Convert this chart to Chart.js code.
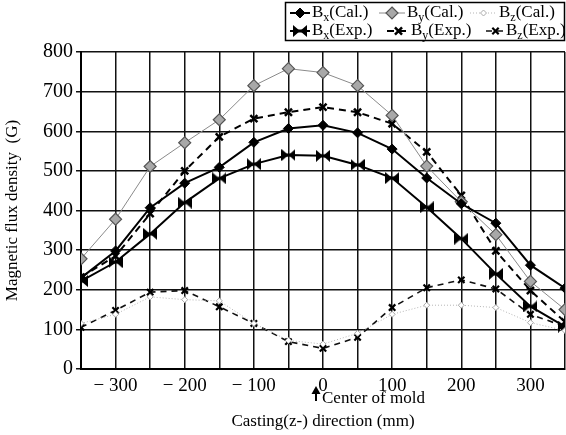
<!DOCTYPE html>
<html>
<head>
<meta charset="utf-8">
<script src="https://cdn.jsdelivr.net/npm/chart.js@4/dist/chart.umd.min.js"></script>
<style>
  html, body { margin: 0; padding: 0; background: #fff; }
  #wrap { width: 566px; height: 435px; }
</style>
</head>
<body>
<div id="wrap"><canvas id="fluxChart" width="566" height="435"></canvas></div>
<script>
// positions along the casting direction (mm)
var positions = [-350, -300, -250, -200, -150, -100, -50, 0, 50, 100, 150, 200, 250, 300, 350];

// magnetic flux density (G)
var bxCal = [230, 298, 407, 469, 509, 572, 607, 615, 596, 555, 482, 417, 368, 262, 204];
var byCal = [278, 378, 511, 571, 629, 715, 758, 748, 715, 640, 512, 422, 339, 221, 150];
var bzCal = [115, 138, 182, 175, 172, 115, 72, 63, 90, 138, 161, 161, 155, 117, 97];
var bxExp = [222, 270, 341, 420, 481, 517, 540, 538, 515, 482, 408, 329, 240, 158, 107];
var byExp = [232, 285, 392, 500, 586, 632, 648, 661, 648, 619, 548, 438, 298, 198, 119];
var bzExp = [105, 148, 194, 198, 157, 115, 69, 52, 80, 155, 205, 225, 202, 138, 107];

var SERIF = '"Liberation Serif", "Times New Roman", serif';

function pts(vals) {
  return positions.map(function (x, i) { return { x: x, y: vals[i] }; });
}

// horizontal bow-tie marker used for Bx(Exp.)
function bowtie() {
  var c = document.createElement("canvas");
  c.width = 14; c.height = 12;
  var g = c.getContext("2d");
  g.fillStyle = "#000";
  g.beginPath();
  g.moveTo(0, 0); g.lineTo(7, 6); g.lineTo(0, 12); g.closePath();
  g.moveTo(14, 0); g.lineTo(7, 6); g.lineTo(14, 12); g.closePath();
  g.fill();
  g.fillRect(2, 4.5, 10, 3);
  return c;
}

function drawMarker(ctx, ds, x, y) {
  var st = ds.pointStyle, r = ds.pointRadius;
  if (typeof st !== "string") {
    ctx.drawImage(st, x - st.width / 2, y - st.height / 2);
    return;
  }
  ctx.save();
  ctx.setLineDash([]);
  ctx.fillStyle = ds.pointBackgroundColor;
  ctx.strokeStyle = ds.pointBorderColor;
  ctx.lineWidth = ds.pointBorderWidth;
  ctx.beginPath();
  if (st === "rectRot") {
    ctx.moveTo(x, y - r); ctx.lineTo(x + r, y); ctx.lineTo(x, y + r); ctx.lineTo(x - r, y);
    ctx.closePath(); ctx.fill(); ctx.stroke();
  } else {
    var d = r * 0.707;
    ctx.moveTo(x - d, y - d); ctx.lineTo(x + d, y + d);
    ctx.moveTo(x + d, y - d); ctx.lineTo(x - d, y + d);
    ctx.stroke();
  }
  ctx.restore();
}

// legend drawn in a box at top right, with subscripts
var legendBox = {
  id: "legendBox",
  afterDraw: function (chart) {
    var ctx = chart.ctx;
    var slots = [
      { i: 0, x1: 290, x2: 310, tx: 312, y: 13 },
      { i: 1, x1: 379, x2: 405, tx: 407, y: 13 },
      { i: 2, x1: 470, x2: 497, tx: 499, y: 13 },
      { i: 3, x1: 290, x2: 310, tx: 312, y: 31 },
      { i: 4, x1: 387, x2: 410, tx: 411, y: 31 },
      { i: 5, x1: 486, x2: 505, tx: 506, y: 31 }
    ];
    ctx.save();
    ctx.strokeStyle = "#000";
    ctx.lineWidth = 1.5;
    ctx.strokeRect(285.5, 2.5, 279, 38);
    slots.forEach(function (s) {
      var ds = chart.data.datasets[s.i];
      ctx.save();
      ctx.strokeStyle = ds.borderColor;
      ctx.lineWidth = ds.borderWidth;
      ctx.setLineDash(ds.borderDash || []);
      ctx.beginPath();
      ctx.moveTo(s.x1, s.y); ctx.lineTo(s.x2, s.y);
      ctx.stroke();
      ctx.restore();
      drawMarker(ctx, ds, (s.x1 + s.x2) / 2, s.y);
      var lab = ds.label;
      ctx.fillStyle = "#000";
      ctx.textBaseline = "middle";
      ctx.textAlign = "left";
      ctx.font = "17px " + SERIF;
      ctx.fillText("B", s.tx, s.y);
      var x = s.tx + ctx.measureText("B").width;
      ctx.font = "12px " + SERIF;
      ctx.fillText(lab.charAt(1), x, s.y + 5);
      x += ctx.measureText(lab.charAt(1)).width;
      ctx.font = "17px " + SERIF;
      ctx.fillText(lab.slice(2), x, s.y);
    });
    ctx.restore();
  }
};

// arrow + "Center of mold" under the zero tick
var centerNote = {
  id: "centerNote",
  afterDraw: function (chart) {
    var ctx = chart.ctx;
    var x0 = chart.scales.x.getPixelForValue(0);
    ctx.save();
    ctx.fillStyle = "#000";
    ctx.beginPath();
    ctx.moveTo(x0 - 7, 386); ctx.lineTo(x0 - 2.5, 394); ctx.lineTo(x0 - 11.5, 394);
    ctx.closePath(); ctx.fill();
    ctx.fillRect(x0 - 8, 393, 2, 8);
    ctx.font = "17px " + SERIF;
    ctx.textBaseline = "middle";
    ctx.textAlign = "left";
    ctx.fillText("Center of mold", x0 - 1, 399);
    ctx.restore();
  }
};

new Chart(document.getElementById("fluxChart").getContext("2d"), {
  type: "line",
  data: {
    datasets: [
      { label: "Bx(Cal.)", data: pts(bxCal), borderColor: "#000", borderWidth: 2,
        pointStyle: "rectRot", pointRadius: 5, pointBackgroundColor: "#000",
        pointBorderColor: "#000", pointBorderWidth: 1 },
      { label: "By(Cal.)", data: pts(byCal), borderColor: "#8a8a8a", borderWidth: 1,
        pointStyle: "rectRot", pointRadius: 6, pointBackgroundColor: "#a8a8a8",
        pointBorderColor: "#555", pointBorderWidth: 1.2 },
      { label: "Bz(Cal.)", data: pts(bzCal), borderColor: "#b5b5b5", borderWidth: 1,
        borderDash: [1, 2], pointStyle: "rectRot", pointRadius: 3,
        pointBackgroundColor: "#fff", pointBorderColor: "#aaa", pointBorderWidth: 1 },
      { label: "Bx(Exp.)", data: pts(bxExp), borderColor: "#000", borderWidth: 2,
        pointStyle: bowtie(), pointRadius: 6, pointBackgroundColor: "#000",
        pointBorderColor: "#000" },
      { label: "By(Exp.)", data: pts(byExp), borderColor: "#000", borderWidth: 2,
        borderDash: [7, 5], pointStyle: "crossRot", pointRadius: 5,
        pointBackgroundColor: "#000", pointBorderColor: "#000", pointBorderWidth: 2.5 },
      { label: "Bz(Exp.)", data: pts(bzExp), borderColor: "#111", borderWidth: 1.6,
        borderDash: [6, 5], pointStyle: "crossRot", pointRadius: 4.5,
        pointBackgroundColor: "#000", pointBorderColor: "#000", pointBorderWidth: 2.2 }
    ]
  },
  options: {
    responsive: false,
    animation: false,
    devicePixelRatio: 1,
    layout: { autoPadding: false, padding: { top: 52, right: 1, left: 0, bottom: 0 } },
    elements: { line: { tension: 0, fill: false } },
    plugins: { legend: { display: false }, tooltip: { enabled: false } },
    scales: {
      x: {
        type: "linear",
        min: -350, max: 350,
        afterFit: function (s) { s.height = 66; s.paddingRight = 0; },
        ticks: {
          stepSize: 50, color: "#000", padding: 6,
          maxRotation: 0, minRotation: 0, autoSkip: false,
          font: { family: SERIF, size: 19 },
          callback: function (v) {
            if (v % 100 !== 0) return "";
            return v < 0 ? "\u2212 " + Math.abs(v) : String(v);
          }
        },
        grid: { color: "#111", lineWidth: 1.5, drawTicks: false },
        border: { color: "#000", width: 2 },
        title: {
          display: true, text: "Casting(z-) direction (mm)", color: "#000",
          font: { family: SERIF, size: 17 }, padding: { top: 0, bottom: 3 }
        }
      },
      y: {
        min: 0, max: 800,
        afterFit: function (s) { s.width = 81; },
        ticks: {
          stepSize: 100, color: "#000", padding: 3,
          font: { family: SERIF, size: 20 }
        },
        grid: { color: "#111", lineWidth: 1.5, tickLength: 5 },
        border: { color: "#000", width: 2 },
        title: {
          display: true, text: "Magnetic flux density\u2002(G)", color: "#000",
          font: { family: SERIF, size: 17 }, padding: { top: 2, bottom: 2 }
        }
      }
    }
  },
  plugins: [legendBox, centerNote]
});
</script>
</body>
</html>
